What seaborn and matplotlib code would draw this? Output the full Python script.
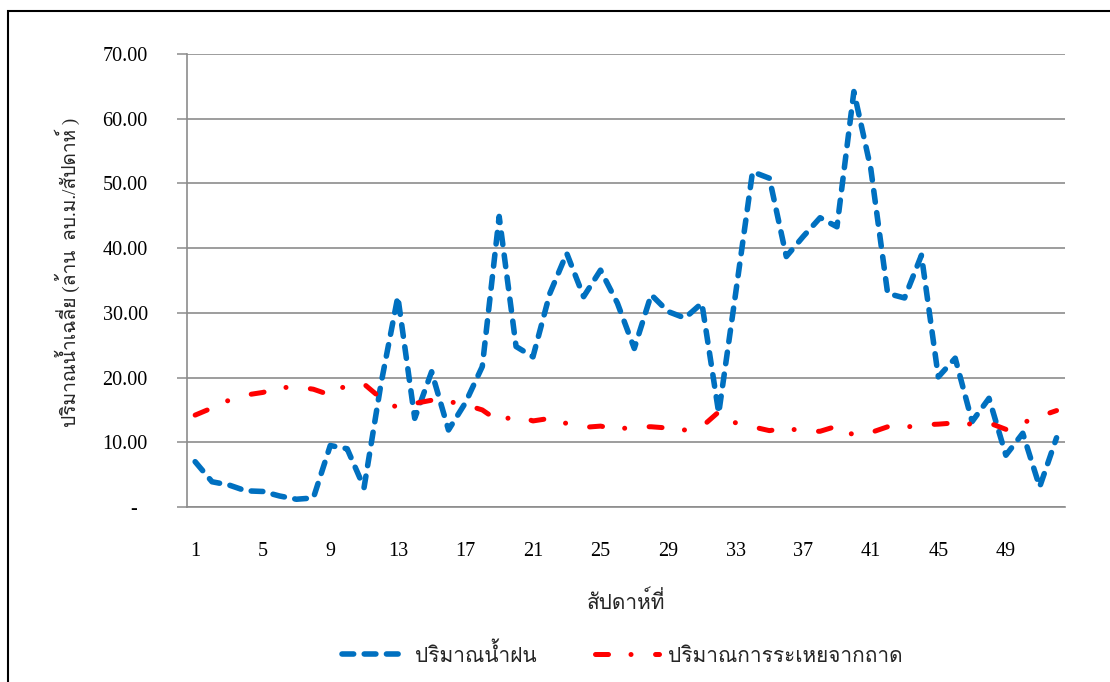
import matplotlib
matplotlib.use("Agg")
import matplotlib.pyplot as plt
from matplotlib import font_manager
from matplotlib.ft2font import FT2Font
from matplotlib.patches import Rectangle
import seaborn as sns

# Weekly averages (million m^3 / week)
weeks = list(range(1, 53))
rain = [7.0, 3.9, 3.4, 2.5, 2.4, 1.7, 1.2, 1.4, 9.5, 9.0,
        3.0, 19.0, 32.5, 13.7, 20.9, 11.9, 16.1, 21.7, 44.9, 24.8,
        23.2, 33.0, 39.2, 32.5, 36.6, 31.5, 24.5, 32.8, 30.2, 29.2,
        31.5, 14.5, 33.0, 51.8, 50.8, 38.7, 41.8, 44.7, 43.3, 64.2,
        52.3, 33.0, 32.3, 38.9, 20.1, 23.0, 13.2, 16.8, 8.0, 11.4,
        3.1, 10.7]
evap = [14.2, 15.3, 16.5, 17.3, 17.7, 18.4, 18.6, 18.2, 17.3, 18.9,
        19.0, 16.8, 15.3, 16.0, 16.5, 16.3, 15.8, 15.0, 13.2, 14.2,
        13.3, 13.7, 12.9, 12.3, 12.5, 12.0, 12.4, 12.4, 12.2, 11.9,
        12.4, 14.7, 13.0, 12.4, 11.8, 12.2, 11.7, 11.7, 12.5, 11.1,
        11.5, 12.4, 12.3, 12.7, 12.8, 13.0, 12.8, 13.0, 12.0, 13.0,
        14.0, 14.9]

x_ticks = [1, 5, 9, 13, 17, 21, 25, 29, 33, 37, 41, 45, 49]
y_ticks = [0, 10, 20, 30, 40, 50, 60, 70]

rain_label = "ปริมาณน้ำฝน"
evap_label = "ปริมาณการระเหยจากถาด"
x_title = "สัปดาห์ที่"
y_title = "ปริมาณน้ำเฉลี่ย (ล้าน  ลบ.ม./สัปดาห์ )"


def find_thai_family():
    seen = set()
    for f in font_manager.fontManager.ttflist:
        if f.name in seen:
            continue
        seen.add(f.name)
        try:
            cmap = FT2Font(f.fname).get_charmap()
        except Exception:
            continue
        if 0x0E1B in cmap and 0x0E32 in cmap:
            return f.name
    return None


sns.set_theme(style="white")
thai = find_thai_family()
families = ["Liberation Serif"] + ([thai] if thai else []) + ["DejaVu Sans"]
plt.rcParams["font.family"] = families

W, H = 1110, 682
fig = plt.figure(figsize=(W / 100, H / 100), dpi=100)
fig.patch.set_facecolor("white")

ax = fig.add_axes([186.7 / W, 1 - 507 / H, (1065 - 186.7) / W, (507 - 54) / H])

grid_c = "#8C8C8C"
sns.lineplot(x=weeks, y=rain, ax=ax, color="#0070C0", linewidth=4.0,
             label=rain_label)
sns.lineplot(x=weeks, y=evap, ax=ax, color="#FF0000", linewidth=3.6,
             label=evap_label)
l_rain, l_evap = ax.lines[0], ax.lines[1]
l_rain.set_dashes((2.1, 1.9))
l_evap.set_dashes((2.6, 4.5, 0.01, 4.9))
for ln in (l_rain, l_evap):
    ln.set_dash_capstyle("round")
    ln.set_solid_capstyle("round")
    ln.set_dash_joinstyle("round")

ax.set_xlim(0.5, 52.5)
ax.set_ylim(0, 70)
ax.set_xticks(x_ticks)
ax.set_xticklabels([str(t) for t in x_ticks])
ax.set_yticks(y_ticks)
ax.set_yticklabels(["-  " if v == 0 else f"{v:.2f}" for v in y_ticks])
ax.yaxis.grid(True, color=grid_c, linewidth=1.2)
ax.set_axisbelow(True)
ax.tick_params(axis="x", length=0, pad=25, labelsize=14.5, colors="black")
ax.tick_params(axis="y", length=7, width=1.1, color=grid_c, pad=21,
               labelsize=14.5, labelcolor="black", left=True)
for s in ("top", "right"):
    ax.spines[s].set_visible(False)
for s in ("left", "bottom"):
    ax.spines[s].set_color(grid_c)
    ax.spines[s].set_linewidth(1.2)
ax.set_xlabel("")
ax.set_ylabel("")
ax.get_legend().remove()

fig.text(626 / W, 1 - 603 / H, x_title, ha="center", va="center", fontsize=15)
fig.text(67 / W, 1 - 272 / H, y_title, ha="center", va="center",
         rotation=90, fontsize=13.8)

handles = [l_rain, l_evap]
fig.legend(handles, [rain_label, evap_label], loc="center",
           bbox_to_anchor=(622 / W, 1 - 655 / H), ncol=2, frameon=False,
           fontsize=15, handlelength=3.1, columnspacing=2.8, handletextpad=0.4)

# chart frame
fig.add_artist(Rectangle((8 / W, -0.1), 1.5, 1.1 - 11 / H,
                         transform=fig.transFigure, fill=False,
                         edgecolor="black", linewidth=1.5, clip_on=False))

fig.savefig("out.png", dpi=100, facecolor="white")
